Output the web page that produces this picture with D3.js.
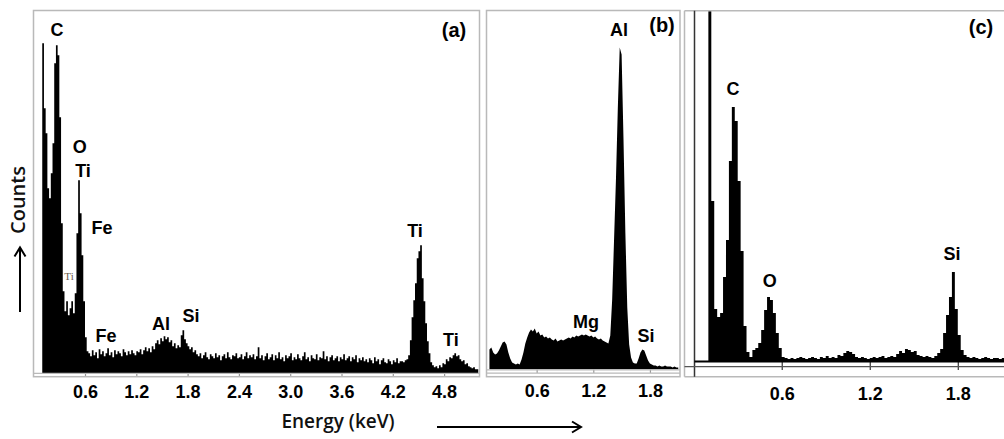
<!DOCTYPE html>
<html>
<head>
<meta charset="utf-8">
<script src="https://cdn.jsdelivr.net/npm/d3@7"></script>
<style>
  body { margin: 0; background: #fff; }
  svg { display: block; }
  .tick text { font-family: Arial, "Liberation Sans", sans-serif; font-weight: bold; font-size: 18px; fill: #000; }
  .el { font-family: Arial, "Liberation Sans", sans-serif; font-weight: bold; font-size: 18px; text-anchor: middle; fill: #000; }
  .el-small { font-family: "Liberation Serif", "DejaVu Serif", serif; font-size: 11px; text-anchor: middle; fill: #6b5a4a; }
  .tag { font-family: Arial, "Liberation Sans", sans-serif; font-weight: bold; font-size: 20px; text-anchor: middle; fill: #000; }
  .axis-title { font-family: "Open Sans", sans-serif; font-size: 19px; font-weight: 600; fill: #111; }
</style>
</head>
<body>
<svg width="1004" height="439"></svg>
<script>
// EDS spectra, counts per 0.02 keV channel, channels start at 0.10 keV

// (a)
const specAStart = 0.10, specAStep = 0.02
const specA = [
  330, 265, 240, 185, 175, 200, 230, 310, 328, 318,
  256, 150, 82, 62, 72, 58, 65, 72, 60, 80,
  140, 193, 160, 118, 72, 36, 22, 20, 17, 23,
  18, 21, 15, 24, 19, 22, 17, 20, 25, 18,
  21, 16, 23, 19, 22, 20, 17, 24, 21, 18,
  22, 19, 23, 20, 18, 22, 21, 24, 19, 23,
  26, 22, 25, 21, 27, 24, 30, 33, 29, 35,
  32, 37, 34, 36, 31, 33, 27, 30, 25, 28,
  26, 38, 43, 34, 30, 27, 24, 26, 21, 23,
  19, 17, 20, 15, 18, 21, 16, 14, 19, 17,
  15, 20, 16, 18, 13, 17, 19, 15, 21, 16,
  14, 18, 17, 20, 15, 16, 19, 14, 17, 21,
  15, 18, 16, 19, 14, 17, 26, 15, 18, 13,
  17, 20, 14, 16, 19, 13, 18, 15, 21, 14,
  16, 12, 18, 15, 17, 20, 13, 16, 14, 19,
  15, 13, 17, 21, 14, 16, 12, 18, 15, 14,
  19, 13, 16, 15, 22, 14, 17, 12, 16, 18,
  13, 15, 17, 12, 16, 14, 19, 13, 15, 17,
  12, 16, 14, 18, 11, 15, 13, 16, 12, 14,
  11, 15, 13, 10, 16, 12, 14, 9, 13, 15,
  11, 10, 14, 12, 9, 13, 11, 15, 10, 12,
  12, 11, 13, 14, 18, 33, 56, 73, 90, 115,
  122, 128, 95, 72, 50, 32, 20, 11, 8, 6,
  7, 5, 8, 6, 10, 9, 14, 12, 16, 15,
  18, 20, 17, 18, 14, 12, 13, 9, 10, 7,
  6, 5, 6, 4, 4, 3
]
const ticksA = [0.6, 1.2, 1.8, 2.4, 3.0, 3.6, 4.2, 4.8]
const labelsA = [
  { el: 'C', e: 0.273, c: 344 },
  { el: 'O', e: 0.54, c: 227 },
  { el: 'Ti', e: 0.577, c: 203 },
  { el: 'Fe', e: 0.80, c: 146 },
  { el: 'Fe', e: 0.847, c: 38 },
  { el: 'Al', e: 1.49, c: 50 },
  { el: 'Si', e: 1.84, c: 58 },
  { el: 'Ti', e: 4.46, c: 143 },
  { el: 'Ti', e: 4.88, c: 34 }
]
const smallLabelsA = [{ el: 'Ti', e: 0.413, c: 97 }]

// (b)
const specBStart = 0.10, specBStep = 0.02
const specB = [
  20, 22, 17, 15, 16, 19, 23, 27, 28, 25,
  17, 11, 7, 6, 5, 6, 5, 10, 17, 26,
  32, 37, 40, 38, 41, 36, 38, 34, 35, 32,
  33, 31, 32, 30, 29, 31, 28, 29, 30, 29,
  30, 31, 32, 31, 33, 32, 34, 33, 34, 35,
  34, 35, 34, 33, 34, 32, 33, 31, 30, 31,
  29, 28, 27, 26, 34, 70, 130, 190, 262, 322,
  315, 230, 136, 62, 25, 12, 7, 6, 6, 11,
  17, 20, 19, 14, 9, 6, 5, 4, 4, 3,
  4, 3, 3, 4, 3, 3, 3, 2, 3, 2,
  2
]
const ticksB = [0.6, 1.2, 1.8]
const labelsB = [
  { el: 'Al', e: 1.472, c: 340 },
  { el: 'Mg', e: 1.123, c: 48 },
  { el: 'Si', e: 1.758, c: 34 }
]

// (c)
const specCStart = 0.10, specCStep = 0.02
const specC = [
  420, 160, 52, 44, 48, 84, 121, 200, 254, 240,
  180, 110, 35, 9, 4, 11, 13, 18, 31, 51,
  64, 61, 48, 28, 13, 4, 3, 2, 3, 2,
  3, 4, 3, 2, 3, 4, 3, 2, 4, 3,
  5, 3, 4, 3, 6, 5, 8, 10, 9, 7,
  4, 3, 4, 3, 2, 3, 4, 3, 4, 5,
  3, 4, 5, 4, 7, 10, 8, 12, 11, 9,
  10, 6, 5, 4, 5, 4, 3, 5, 8, 12,
  28, 46, 64, 89, 52, 26, 11, 6, 4, 3,
  4, 3, 2, 3, 4, 3, 2, 3, 3, 2,
  3, 2
]
const ticksC = [0.6, 1.2, 1.8]
const labelsC = [
  { el: 'C', e: 0.268, c: 272 },
  { el: 'O', e: 0.519, c: 80 },
  { el: 'Si', e: 1.761, c: 107 }
]

const svg = d3.select('svg')
const defs = svg.append('defs')
const gray = '#b9b9b9'

const line = (x1, y1, x2, y2, color, w) =>
  svg.append('line').attr('x1', x1).attr('y1', y1).attr('x2', x2).attr('y2', y2)
     .attr('stroke', color).attr('stroke-width', w)

const panels = [
  { key: 'a', counts: specA, start: specAStart, step: specAStep, ticks: ticksA, labels: labelsA,
    eMax: 5.2, x0: 33.7, x1: 478.3, cMax: 363, base: 373.3, top: 10.3,
    clip: [34, 10.5, 479, 373.3], curve: d3.curveStepAfter,
    tickSize: 3.4, tickPad: 8.5, tickColor: '#999', tag: '(a)', tagX: 454, tagY: 37 },
  { key: 'b', counts: specB, start: specBStart, step: specBStep, ticks: ticksB, labels: labelsB,
    eMax: 2.11, x0: 480, x1: 679.2, cMax: 359, base: 369.5, top: 10.5,
    clip: [486.5, 10.5, 679.5, 369.5], curve: d3.curveLinear,
    tickSize: 3.5, tickPad: 11, tickColor: '#999', tag: '(b)', tagX: 662, tagY: 32 },
  { key: 'c', counts: specC, start: specCStart, step: specCStep, ticks: ticksC, labels: labelsC,
    eMax: 2.115, x0: 693.7, x1: 1004, cMax: 351, base: 361, top: 10,
    clip: [695, 10.7, 1004, 361], curve: d3.curveStepAfter,
    tickSize: 9, tickPad: 17, tickColor: '#333', tag: '(c)', tagX: 981, tagY: 34 }
]

panels.forEach(p => {
  const x = d3.scaleLinear().domain([0, p.eMax]).range([p.x0, p.x1])
  const y = d3.scaleLinear().domain([0, p.cMax]).range([p.base, p.top])
  const g = svg.append('g').attr('class', 'panel-' + p.key)

  const [cx0, cy0, cx1, cy1] = p.clip
  defs.append('clipPath').attr('id', 'clip-' + p.key)
    .append('rect').attr('x', cx0).attr('y', cy0).attr('width', cx1 - cx0).attr('height', cy1 - cy0)

  const area = d3.area()
    .x((d, i) => x(p.start + i * p.step))
    .y0(p.base)
    .y1(d => y(d))
    .curve(p.curve)

  g.append('path')
    .datum(p.counts)
    .attr('d', area)
    .attr('fill', '#000')
    .attr('clip-path', `url(#clip-${p.key})`)

  const axis = d3.axisBottom(x)
    .tickValues(p.ticks)
    .tickFormat(d3.format('.1f'))
    .tickSize(p.tickSize)
    .tickPadding(p.tickPad)
    .tickSizeOuter(0)
  const axisG = g.append('g').attr('transform', `translate(0,${p.base})`).call(axis)
  axisG.select('.domain').remove()
  axisG.selectAll('.tick line').attr('stroke', p.tickColor).attr('stroke-width', 1.2)

  g.selectAll('.el')
    .data(p.labels)
    .enter()
    .append('text')
    .classed('el', true)
    .attr('x', d => x(d.e))
    .attr('y', d => y(d.c))
    .attr('dy', '0.36em')
    .text(d => d.el)

  if (p.key === 'a') {
    g.selectAll('.el-small')
      .data(smallLabelsA)
      .enter()
      .append('text')
      .classed('el-small', true)
      .attr('x', d => x(d.e))
      .attr('y', d => y(d.c))
      .attr('dy', '0.36em')
      .text(d => d.el)
  }

  g.append('text').classed('tag', true).attr('x', p.tagX).attr('y', p.tagY).text(p.tag)
})

// frames (a)
svg.append('rect').attr('x', 33.5).attr('y', 10.5).attr('width', 446).attr('height', 366.2)
   .attr('fill', 'none').attr('stroke', gray).attr('stroke-width', 1.5)
line(33.5, 373.3, 479.5, 373.3, gray, 1.2)

// frames (b)
svg.append('rect').attr('x', 486.5).attr('y', 10.5).attr('width', 193.5).attr('height', 366.2)
   .attr('fill', 'none').attr('stroke', gray).attr('stroke-width', 1.5)
line(486.5, 369.8, 680, 369.8, gray, 1.2)
line(486.5, 373.2, 680, 373.2, gray, 1.2)

// frames (c)
line(684.5, 10.7, 1004, 10.7, gray, 1.5)
line(684.5, 10.7, 684.5, 376.7, gray, 1.5)
line(684.5, 376.7, 1004, 376.7, gray, 1.5)
line(694.5, 10.7, 694.5, 376.7, '#333', 1.5)
line(694.5, 361.5, 1004, 361.5, '#000', 1.8)
line(684.5, 366.7, 1004, 366.7, '#555', 1.2)

// axis titles and arrows
svg.append('text').classed('axis-title', true)
   .attr('x', 338).attr('y', 428).attr('text-anchor', 'middle')
   .text('Energy (keV)')
line(437, 427, 580, 427, '#000', 2)
svg.append('polyline').attr('points', '572,421.5 581,427 572,432.5')
   .attr('fill', 'none').attr('stroke', '#000').attr('stroke-width', 2)

svg.append('text').classed('axis-title', true)
   .attr('transform', 'translate(25,200) rotate(-90)')
   .attr('text-anchor', 'middle')
   .style('font-size', '20px')
   .text('Counts')
line(20, 312, 20, 249, '#000', 2)
svg.append('polyline').attr('points', '14.5,256.5 20,247.5 25.5,256.5')
   .attr('fill', 'none').attr('stroke', '#000').attr('stroke-width', 2)
</script>
</body>
</html>
